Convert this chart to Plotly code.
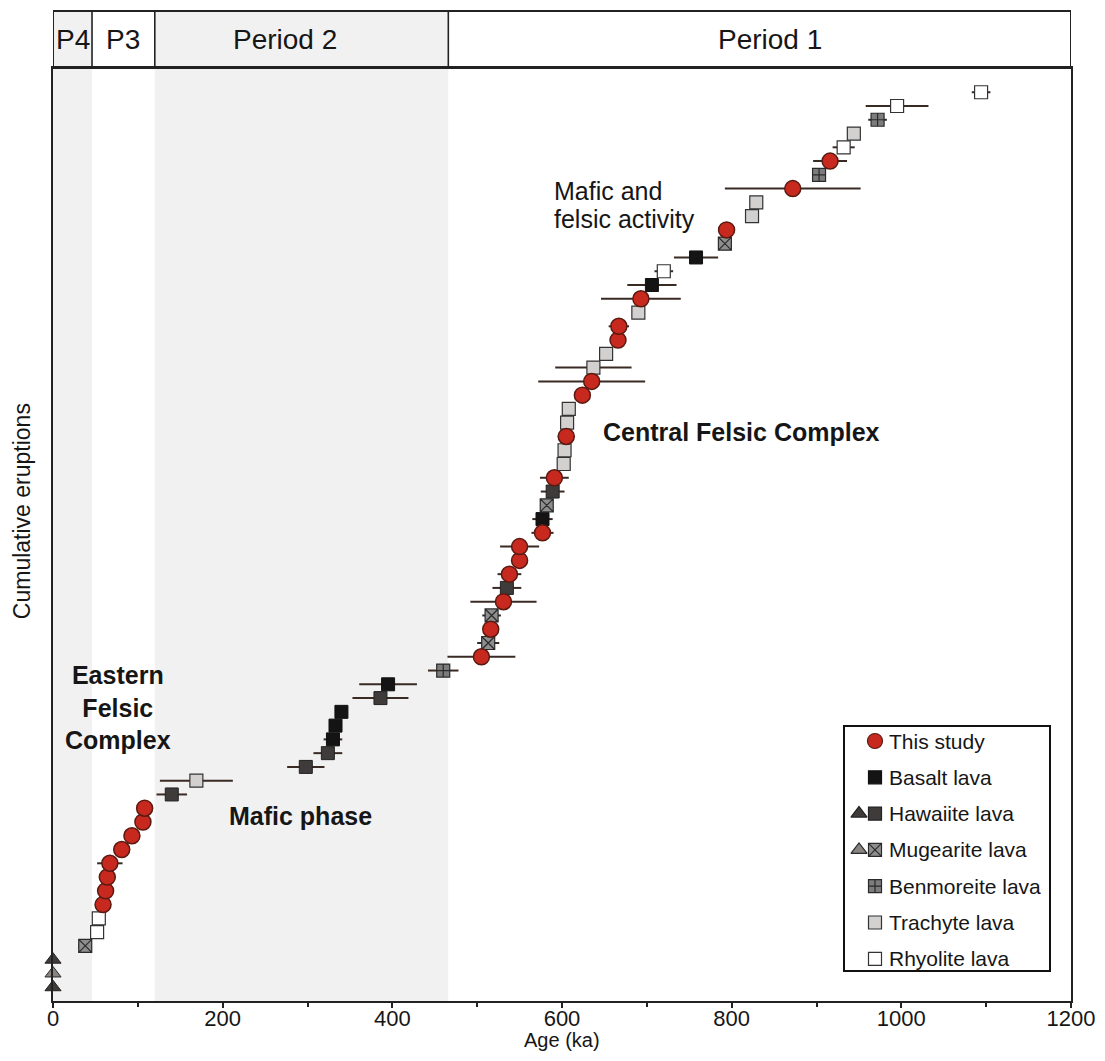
import plotly.graph_objects as go

# ---------------- data ----------------
ages = [0, 0, 0, 38, 52, 54, 59, 62, 64, 67, 81, 93, 106, 108, 140, 169,
        298, 324, 330, 333, 340, 386, 395, 460,
        505, 513, 516, 517, 531, 535, 538, 550, 550, 577, 577, 582, 589, 591,
        602, 603, 605, 606, 608, 624, 635, 637, 652, 666, 667, 690, 693, 706,
        720, 758, 792, 794, 824, 829, 872, 903, 916, 932, 944, 972, 995, 1094]
age_err = [0, 0, 0, 8, 0, 0, 0, 0, 0, 15, 6, 0, 0, 10, 18, 43,
           22, 17, 11, 0, 0, 33, 34, 18,
           40, 13, 9, 11, 39, 17, 14, 0, 23, 13, 12, 7, 14, 17,
           0, 0, 10, 0, 0, 0, 63, 45, 0, 0, 12, 0, 47, 29,
           11, 26, 0, 0, 0, 0, 80, 0, 20, 13, 0, 11, 37, 11]
rock = ["hawaiite_tri", "mugearite_tri", "hawaiite_tri", "mugearite", "rhyolite", "rhyolite",
        "study", "study", "study", "study", "study", "study", "study", "study", "hawaiite", "trachyte",
        "hawaiite", "hawaiite", "basalt", "basalt", "basalt", "hawaiite", "basalt", "benmoreite",
        "study", "mugearite", "study", "mugearite", "study", "hawaiite", "study", "study", "study",
        "study", "basalt", "mugearite", "hawaiite", "study",
        "trachyte", "trachyte", "study", "trachyte", "trachyte", "study", "study", "trachyte",
        "trachyte", "study", "study", "trachyte", "study", "basalt",
        "rhyolite", "basalt", "mugearite", "study", "trachyte", "trachyte", "study", "benmoreite",
        "study", "rhyolite", "trachyte", "benmoreite", "rhyolite", "rhyolite"]
cumulative = list(range(1, len(ages) + 1))

period_bounds = [0, 46, 120, 466, 1200]
period_labels = ["P4", "P3", "Period 2", "Period 1"]
period_label_age = [23, 83, 274, 845]
period_shaded = [True, False, True, False]

x_ticks = [0, 200, 400, 600, 800, 1000, 1200]

legend_labels = ["This study", "Basalt lava", "Hawaiite lava", "Mugearite lava",
                 "Benmoreite lava", "Trachyte lava", "Rhyolite lava"]
legend_keys = [["study"], ["basalt"], ["hawaiite_tri", "hawaiite"], ["mugearite_tri", "mugearite"],
               ["benmoreite"], ["trachyte"], ["rhyolite"]]

# ---------------- styles ----------------
styles = {
    "study":         dict(symbol="circle",       size=16, fill="#c8291f", line="#5a1a12", lw=1.5),
    "basalt":        dict(symbol="square",       size=13, fill="#141414", line="#111111", lw=1.0),
    "hawaiite":      dict(symbol="square",       size=13, fill="#3e3b3a", line="#222222", lw=1.0),
    "hawaiite_tri":  dict(symbol="triangle-up",  size=14, fill="#3e3b3a", line="#222222", lw=1.0),
    "mugearite":     dict(symbol="square-x",     size=13, fill="#8e8e8e", line="#2a2a2a", lw=1.2),
    "mugearite_tri": dict(symbol="triangle-up",  size=14, fill="#8a8480", line="#2a2a2a", lw=1.0),
    "benmoreite":    dict(symbol="square-cross", size=13, fill="#7c7c7c", line="#2a2a2a", lw=1.2),
    "trachyte":      dict(symbol="square",       size=13, fill="#d3d0d0", line="#333333", lw=1.2),
    "rhyolite":      dict(symbol="square",       size=13, fill="#ffffff", line="#333333", lw=1.2),
}
draw_order = ["hawaiite_tri", "mugearite_tri", "basalt", "hawaiite", "mugearite",
              "benmoreite", "trachyte", "rhyolite", "study"]

FONT = "Liberation Sans, Arial, sans-serif"
TXT = "#161616"
AX = "#222222"
SHADE = "#f2f1f1"
ERR = "#3a2a24"

# page body adds an 8px margin; figure is sized so the page is exactly 1105x1061
FIG_W, FIG_H = 1089, 1045
M_L, M_R, M_T, M_B = 45, 26, 60, 52
PLOT_H = FIG_H - M_T - M_B  # 933

fig = go.Figure()

for key in draw_order:
    idx = [i for i, r in enumerate(rock) if r == key]
    s = styles[key]
    fig.add_trace(go.Scatter(
        x=[ages[i] for i in idx], y=[cumulative[i] for i in idx],
        mode="markers", showlegend=False, cliponaxis=False,
        error_x=dict(type="data", array=[age_err[i] for i in idx], visible=True,
                     thickness=2, width=0, color=ERR),
        marker=dict(symbol=s["symbol"], size=s["size"], color=s["fill"], opacity=1,
                    line=dict(color=s["line"], width=s["lw"])),
    ))

# ---------------- manual legend (pixel-space overlay axes) ----------------
L_BOX = (844, 1050, 726, 971)
L_ROW0, L_ROWH = 741, 36.3
L_SYM_X, L_SYM_DX, L_TXT_X = 875, 16, 887

lx, ly, lsym, lsz, lfill, lline = [], [], [], [], [], []
for i, keys in enumerate(legend_keys):
    yy = L_ROW0 + i * L_ROWH
    n = len(keys)
    for j, k in enumerate(keys):
        s = styles[k]
        lx.append(L_SYM_X - (n - 1 - j) * L_SYM_DX)
        ly.append(yy)
        lsym.append(s["symbol"])
        lsz.append(s["size"] - (1 if k == "study" else 0))
        lfill.append(s["fill"])
        lline.append(s["line"])
fig.add_trace(go.Scatter(
    x=lx, y=ly, xaxis="x2", yaxis="y2", mode="markers", showlegend=False, cliponaxis=False,
    marker=dict(symbol=lsym, size=lsz, color=lfill, opacity=1,
                line=dict(color=lline, width=1.2)),
))

annotations = []
for i, lab in enumerate(legend_labels):
    annotations.append(dict(x=L_TXT_X, y=L_ROW0 + i * L_ROWH, xref="x2", yref="y2",
                            text=lab, showarrow=False, xanchor="left", yanchor="middle",
                            font=dict(family=FONT, size=21, color=TXT)))

# ---------------- shading & header ----------------
HEAD = 57 / PLOT_H
shapes = []
for a, b, sh in zip(period_bounds[:-1], period_bounds[1:], period_shaded):
    if sh:
        shapes.append(dict(type="rect", xref="x", yref="paper", x0=a, x1=b, y0=0, y1=1 + HEAD,
                           fillcolor=SHADE, line=dict(width=0), layer="below"))
shapes.append(dict(type="rect", xref="x2", yref="y2", x0=L_BOX[0], x1=L_BOX[1],
                   y0=L_BOX[2], y1=L_BOX[3], fillcolor="white",
                   line=dict(color="#111111", width=2), layer="below"))
shapes.append(dict(type="rect", xref="x", yref="paper", x0=0, x1=1200, y0=1, y1=1 + HEAD,
                   line=dict(color=AX, width=2), fillcolor="rgba(0,0,0,0)", layer="above"))
for b in period_bounds[1:-1]:
    shapes.append(dict(type="line", xref="x", yref="paper", x0=b, x1=b, y0=1, y1=1 + HEAD,
                       line=dict(color=AX, width=1.6), layer="above"))

for lab, xa in zip(period_labels, period_label_age):
    annotations.append(dict(x=xa, y=1 + HEAD / 2, xref="x", yref="paper", text=lab,
                            showarrow=False, xanchor="center", yanchor="middle",
                            font=dict(family=FONT, size=28, color=TXT)))

# ---------------- region labels ----------------
annotations += [
    dict(x=77, y=21.35, xref="x", yref="y", text="<b>Eastern<br>Felsic<br>Complex</b>",
         showarrow=False, align="center", font=dict(family=FONT, size=25, color=TXT)),
    dict(x=292, y=13.4, xref="x", yref="y", text="<b>Mafic phase</b>",
         showarrow=False, font=dict(family=FONT, size=25, color=TXT)),
    dict(x=812, y=41.3, xref="x", yref="y", text="<b>Central Felsic Complex</b>",
         showarrow=False, font=dict(family=FONT, size=25, color=TXT)),
    dict(x=588, y=58.8, xref="x", yref="y", text="Mafic and",
         showarrow=False, xanchor="left", font=dict(family=FONT, size=25, color=TXT)),
    dict(x=588, y=56.8, xref="x", yref="y", text="felsic activity",
         showarrow=False, xanchor="left", font=dict(family=FONT, size=25, color=TXT)),
    dict(x=-31 / 1018, y=0.525, xref="paper", yref="paper", text="Cumulative eruptions",
         showarrow=False, textangle=-90, xanchor="center", yanchor="middle",
         font=dict(family=FONT, size=23, color=TXT)),
    dict(x=0.5, y=-39 / PLOT_H, xref="paper", yref="paper", text="Age (ka)",
         showarrow=False, xanchor="center", yanchor="middle",
         font=dict(family=FONT, size=20, color=TXT)),
]

fig.update_layout(
    width=FIG_W, height=FIG_H,
    margin=dict(l=M_L, r=M_R, t=M_T, b=M_B, autoexpand=False),
    paper_bgcolor="white", plot_bgcolor="white",
    font=dict(family=FONT, color=TXT),
    shapes=shapes, annotations=annotations, showlegend=False,
    xaxis=dict(range=[0, 1200], tickvals=x_ticks, ticks="outside", ticklen=5, tickwidth=2,
               tickcolor=AX, showline=True, linecolor=AX, linewidth=2, mirror=True,
               showgrid=False, zeroline=False, tickfont=dict(family=FONT, size=22, color=TXT),
               ticklabelstandoff=-8,
               minor=dict(dtick=100, ticks="outside", ticklen=4, tickwidth=2, tickcolor=AX)),
    yaxis=dict(range=[0, 67.76], showticklabels=False, ticks="", showline=True, linecolor=AX,
               linewidth=2, mirror=True, showgrid=False, zeroline=False),
    xaxis2=dict(range=[53, 1071], overlaying="x", visible=False),
    yaxis2=dict(range=[1001, 68], overlaying="y", visible=False),
)

fig.write_html("out.html")
